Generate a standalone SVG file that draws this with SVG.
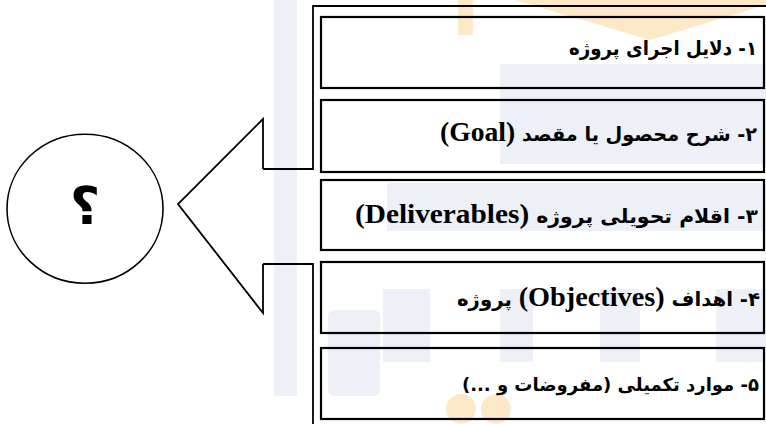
<svg xmlns="http://www.w3.org/2000/svg" width="766" height="424" viewBox="0 0 766 424">
<style>
.wm-b{fill:#edf0f6}
.wm-o{fill:#fde9c8}
.box{fill:none;stroke:#000;stroke-width:2.2}
.line{fill:none;stroke:#000;stroke-width:1.8;stroke-linejoin:miter}
.fa{font-family:"DejaVu Sans",sans-serif;font-weight:bold;font-size:19.5px;fill:#000}
.fa18{font-size:18px}
.en{font-family:"Liberation Serif",serif;font-weight:bold;font-size:28px}
.q{font-family:"DejaVu Sans",sans-serif;font-weight:bold;font-size:52px;fill:#000}
</style>
<rect width="766" height="424" fill="#fff"/>
<g id="watermark">
  <rect class="wm-b" x="274" y="0" width="23" height="396"/>
  <rect class="wm-b" x="500" y="64" width="266" height="100"/>
  <rect class="wm-b" x="387" y="183" width="379" height="48"/>
  <rect class="wm-b" x="328" y="310" width="52" height="86" rx="6"/>
  <rect class="wm-b" x="383" y="289" width="47" height="73"/>
  <rect class="wm-b" x="500" y="289" width="33" height="73"/>
  <rect class="wm-b" x="600" y="289" width="40" height="73"/>
  <rect class="wm-b" x="716" y="289" width="50" height="73"/>
  <rect class="wm-o" x="458" y="0" width="15" height="35"/>
  <polygon class="wm-o" points="515,0 766,0 766,5 650,40"/>
  <circle class="wm-o" cx="461" cy="409" r="15"/>
  <circle class="wm-o" cx="496" cy="409" r="15"/>
</g>
<g id="frame">
  <path class="line" d="M263,169 H313 V6 H770"/>
  <path class="line" d="M263,264 H313 V426"/>
</g>
<g id="connectors">
  <path class="line" d="M263,169 V119 L178,204 L263,313 V264"/>
</g>
<g id="question">
  <ellipse cx="85" cy="208.7" rx="78" ry="74.5" fill="none" stroke="#000" stroke-width="1.6"/>
  <text class="q" x="85" y="224" text-anchor="middle">؟</text>
</g>
<g id="item1">
  <rect class="box" x="321" y="17" width="443" height="71"/>
  <text class="fa" x="757" y="55" direction="rtl" text-anchor="start" textLength="188" lengthAdjust="spacingAndGlyphs">۱- دلایل اجرای پروژه</text>
</g>
<g id="item2">
  <rect class="box" x="321" y="100" width="443" height="72"/>
  <text class="fa" x="757" y="141" direction="rtl" text-anchor="start" textLength="317" lengthAdjust="spacingAndGlyphs">۲- شرح محصول یا مقصد <tspan class="en">(Goal)</tspan></text>
</g>
<g id="item3">
  <rect class="box" x="321" y="180" width="443" height="70"/>
  <text class="fa" x="758" y="223" direction="rtl" text-anchor="start" textLength="403" lengthAdjust="spacingAndGlyphs">۳- اقلام تحویلی پروژه  <tspan class="en">(Deliverables)</tspan></text>
</g>
<g id="item4">
  <rect class="box" x="321" y="262" width="443" height="71"/>
  <text class="fa" x="760" y="306" direction="rtl" text-anchor="start" textLength="303" lengthAdjust="spacingAndGlyphs">۴- اهداف <tspan class="en">(Objectives)</tspan> پروژه</text>
</g>
<g id="item5">
  <rect class="box" x="321" y="348" width="443" height="71"/>
  <text class="fa fa18" x="759" y="391" direction="rtl" text-anchor="start">۵- موارد تکمیلی (مفروضات و ...)</text>
</g>
</svg>
